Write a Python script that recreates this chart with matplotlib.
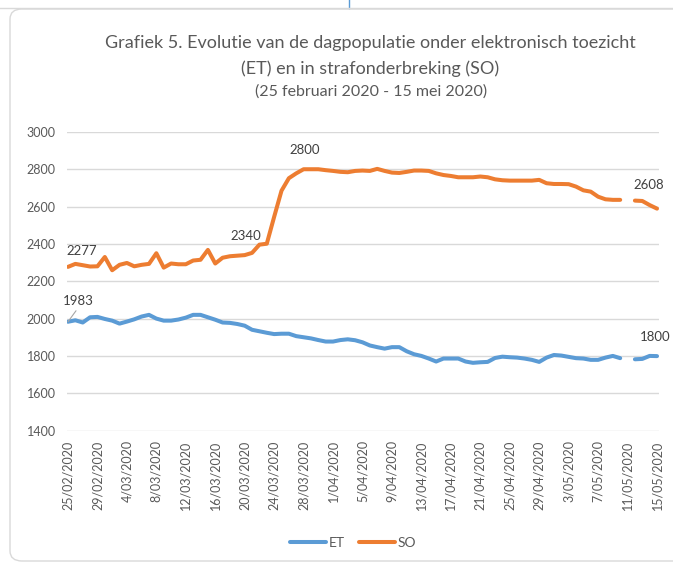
import numpy as np
import pandas as pd
import matplotlib
matplotlib.use("Agg")
import matplotlib.pyplot as plt
import matplotlib.dates as mdates
from matplotlib.lines import Line2D
from matplotlib.patches import FancyBboxPatch

plt.rcParams["font.family"] = ["Lato", "DejaVu Sans"]

nan = np.nan
dates = pd.date_range("2020-02-25", "2020-05-15", freq="D")

so = [2277, 2293, 2286, 2279, 2280, 2330, 2259, 2288, 2298, 2280,
      2288, 2293, 2350, 2273, 2295, 2291, 2291, 2311, 2315, 2368,
      2295, 2326, 2334, 2337, 2340, 2352, 2396, 2401, 2545, 2685,
      2752, 2778, 2800, 2800, 2800, 2795, 2791, 2786, 2784, 2791,
      2793, 2791, 2802, 2791, 2782, 2780, 2786, 2793, 2793, 2791,
      2778, 2769, 2764, 2757, 2757, 2757, 2761, 2757, 2746, 2741,
      2739, 2739, 2739, 2739, 2743, 2725, 2721, 2721, 2720, 2707,
      2687, 2680, 2653, 2639, 2636, 2636, nan, 2632, 2630, 2608, 2589]

et = [1983, 1991, 1979, 2007, 2009, 1998, 1989, 1973, 1984, 1996,
      2011, 2020, 2000, 1989, 1989, 1995, 2005, 2020, 2020, 2007,
      1994, 1979, 1977, 1971, 1962, 1940, 1932, 1924, 1917, 1919,
      1919, 1906, 1900, 1894, 1885, 1877, 1877, 1885, 1889, 1884,
      1873, 1856, 1847, 1839, 1847, 1847, 1825, 1809, 1800, 1786,
      1770, 1786, 1786, 1786, 1770, 1763, 1766, 1768, 1789, 1796,
      1793, 1791, 1786, 1779, 1768, 1791, 1805, 1802, 1795, 1788,
      1786, 1779, 1779, 1791, 1800, 1788, nan, 1782, 1784, 1800, 1799]

# which points get a data label
so_labels = [0, 24, 32, 79]
et_labels = [0, 79]

title_lines = [
    "Grafiek 5. Evolutie van de dagpopulatie onder elektronisch toezicht",
    "(ET) en in strafonderbreking (SO)",
    "(25 februari 2020 - 15 mei 2020)",
]

blue = "#5B9BD5"
orange = "#ED7D31"
grid = "#D9D9D9"
text_col = "#595959"

W, H = 673, 562
fig = plt.figure(figsize=(W / 100, H / 100), dpi=100)

# chart border
border = FancyBboxPatch((10 / W, 1 / H), (W + 20) / W, (H - 10) / H,
                        boxstyle="round,pad=0,rounding_size=0.018",
                        transform=fig.transFigure, fill=False,
                        edgecolor=grid, linewidth=1.0)
fig.patches.append(border)
fig.add_artist(Line2D([349 / W, 349 / W], [1, 1 - 8 / H], color=blue,
                      linewidth=1.0, transform=fig.transFigure))
fig.add_artist(Line2D([0, 1], [1 - 8 / H, 1 - 8 / H], color=grid,
                      linewidth=1.0, transform=fig.transFigure))

ax = fig.add_axes([67 / W, 1 - 430.6 / H, (659 - 67) / W, (430.6 - 131.9) / H])

ax.plot(dates, et, color=blue, linewidth=2.9, solid_capstyle="round",
        solid_joinstyle="round", label="ET")
ax.plot(dates, so, color=orange, linewidth=2.9, solid_capstyle="round",
        solid_joinstyle="round", label="SO")

px_day = (657 - 68) / 80
d0 = mdates.date2num(dates[0])
d1 = mdates.date2num(dates[-1])
ax.set_xlim(d0 - 1 / px_day, d1 + 2 / px_day)
ax.set_ylim(1400, 3000)
ax.set_yticks(range(1400, 3001, 200))

ticks = dates[::4]
ax.set_xticks(ticks)
ax.set_xticklabels([f"{d.day}/{d.month:02d}/{d.year}" for d in ticks],
                   rotation=90, fontsize=9, color=text_col)
ax.tick_params(axis="y", labelsize=9, labelcolor=text_col, length=0, pad=8)
ax.tick_params(axis="x", length=0, pad=7)

ax.grid(axis="y", color=grid, linewidth=1.0)
ax.set_axisbelow(True)
for s in ax.spines.values():
    s.set_visible(False)

lab_kw = dict(textcoords="offset pixels", ha="center", va="center",
              fontsize=9.5, color="#404040")
offsets_so = {0: (14, 16), 24: (1, 19), 32: (1, 19), 79: (-1, 20)}
for i in so_labels:
    ax.annotate(f"{so[i]:.0f}", (dates[i], so[i]), xytext=offsets_so[i], **lab_kw)
offsets_et = {0: (10, 21), 79: (6, 19)}
for i in et_labels:
    ax.annotate(f"{et[i]:.0f}", (dates[i], et[i]), xytext=offsets_et[i], **lab_kw)
# leader line for the first ET label
ax.annotate("", (dates[0], et[0]), xytext=(8, 11), textcoords="offset pixels",
            arrowprops=dict(arrowstyle="-", color="#A6A6A6", linewidth=0.8,
                            shrinkA=0, shrinkB=0))

fig.text(370 / W, 1 - 43 / H, title_lines[0], ha="center", va="center",
         fontsize=13, color=text_col)
fig.text(370 / W, 1 - 69 / H, title_lines[1], ha="center", va="center",
         fontsize=13, color=text_col)
fig.text(371 / W, 1 - 92 / H, title_lines[2], ha="center", va="center",
         fontsize=11.5, color=text_col)

handles, labels = ax.get_legend_handles_labels()
fig.legend(handles, labels, loc="center", bbox_to_anchor=(353 / W, 1 - 543 / H),
           ncol=2, frameon=False, fontsize=10, handlelength=2.6,
           handletextpad=0.2, columnspacing=1.0, labelcolor=text_col)

fig.savefig("out.png", dpi=100)
